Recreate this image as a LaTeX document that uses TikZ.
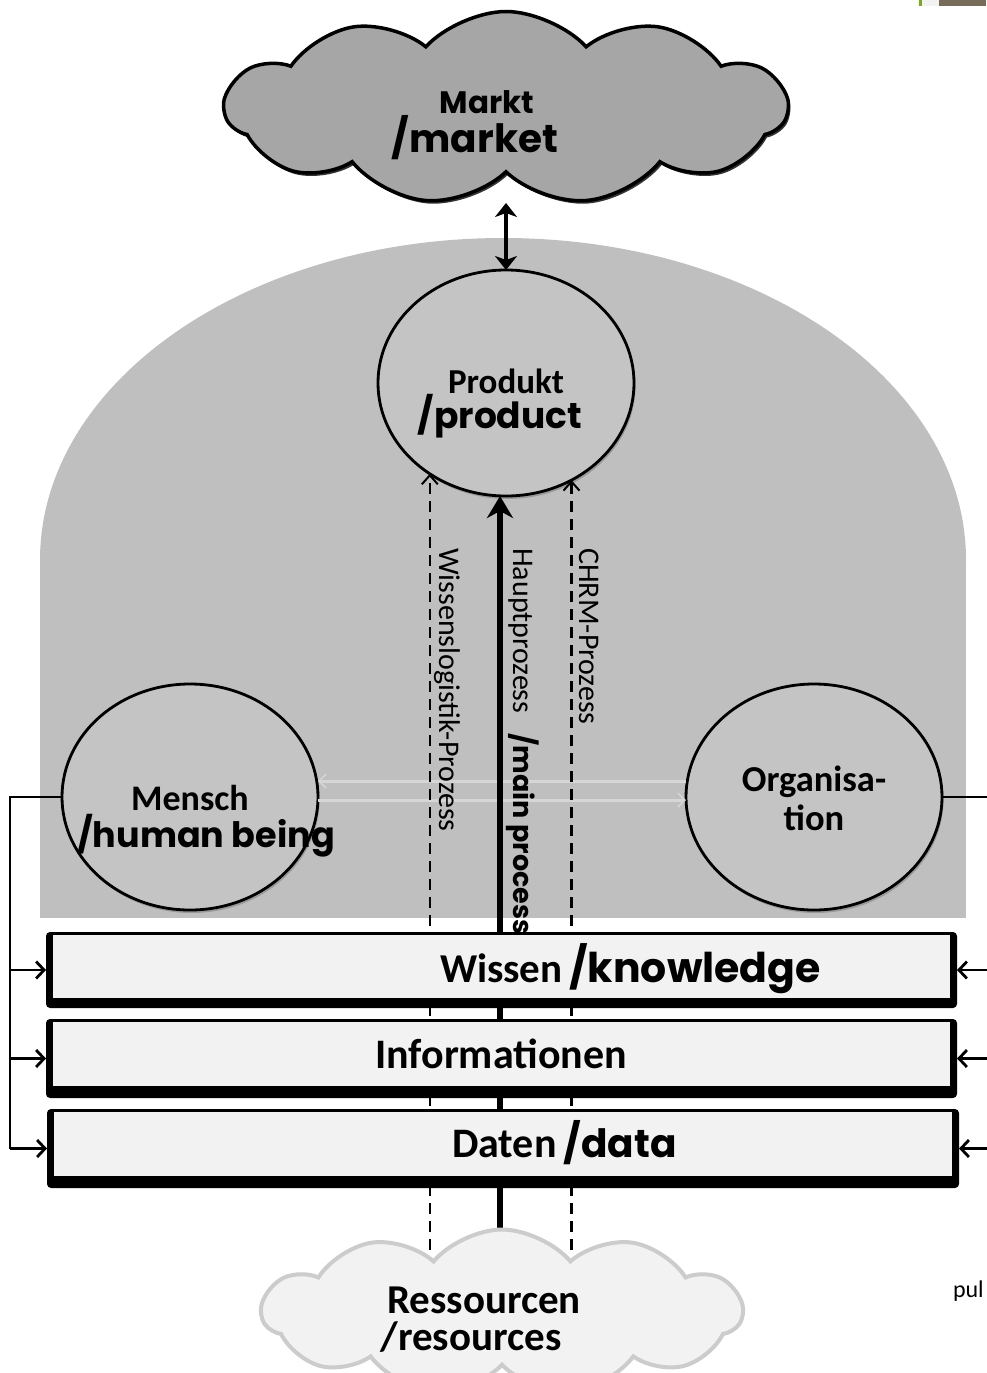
\documentclass[tikz,border=0pt]{standalone}
\usepackage{fontspec}
\setmainfont{Carlito}
\newfontfamily\geo{Poppins}
\usetikzlibrary{shapes.geometric,shapes.symbols,arrows.meta,shadows,calc}
\definecolor{marketgray}{HTML}{A6A6A6}
\definecolor{domegray}{HTML}{BFBFBF}
\definecolor{circgray}{HTML}{C4C4C4}
\definecolor{panelgray}{HTML}{F2F2F2}
\definecolor{resline}{HTML}{CCCCCC}
\definecolor{faintgray}{HTML}{D6D6D6}
\definecolor{markgreen}{HTML}{7AA81C}
\definecolor{markbrown}{HTML}{776B5A}
\begin{document}
\begin{tikzpicture}[x=1pt,y=-1pt,
  circ/.style={ellipse, draw=black, line width=2.8pt, fill=circgray, minimum width=256pt, minimum height=226pt, inner sep=0pt, outer sep=0pt, drop shadow={opacity=0.6, shadow xshift=1.5pt, shadow yshift=-3pt}},
  layerframe/.style={rectangle, fill=black, rounded corners=4pt, inner sep=0pt, outer sep=0pt},
  layerpanel/.style={rectangle, fill=panelgray, inner sep=0pt, outer sep=0pt},
  procdash/.style={line width=2.6pt, dash pattern=on 11pt off 7pt, -{Straight Barb[length=9pt,width=16pt,line width=2pt]}},
  procmain/.style={line width=6.5pt, -{Stealth[length=22pt,width=26pt,inset=7pt]}},
  linkline/.style={line width=2.2pt},
  linkarrow/.style={line width=2.2pt, -{Straight Barb[length=8pt,width=17pt,line width=2.8pt]}},
  faintarrow/.style={draw=faintgray, line width=3pt, -{Straight Barb[length=7pt,width=14pt,line width=1.5pt]}},
  txt/.style={inner sep=0pt, outer sep=0pt, anchor=base},
]
\useasboundingbox (0,0) rectangle (986,1373);
\fill[white] (0,0) rectangle (986,1373);
% top-right marks
\fill[markgreen] (919,0) rectangle (921.5,6);
\fill[panelgray] (921.5,0) rectangle (939,6);
\fill[markbrown] (939,0) rectangle (986,6);

% dome
\fill[domegray] (40,560) rectangle (966,918);
\fill[domegray] (503,560) ellipse [x radius=463pt, y radius=322pt];

% market cloud
\node[cloud, cloud puffs=11, cloud puff arc=95, aspect=3, draw=black, line width=3.5pt, fill=marketgray, minimum width=562pt, minimum height=193pt, inner sep=0pt, outer sep=0pt, drop shadow={fill=black, opacity=0.8, shadow xshift=2pt, shadow yshift=-3pt}] (market) at (506,108) {};
\coordinate (marketbottom) at (506,203);

% circles
\node[circ] (product) at (506,383) {};
\node[circ] (mensch) at (190,797) {};
\node[circ] (org) at (814,797) {};

\draw[line width=4.5pt, {Stealth[length=14pt,width=22pt,inset=4pt]}-{Stealth[length=14pt,width=22pt,inset=4pt]}] (product.north |- marketbottom) -- (product.north);

% faint links between Mensch and Organisation
\draw[faintarrow] ([yshift=16pt]org.west) -- ([yshift=16pt]mensch.east);
\draw[faintarrow] ([yshift=-3pt]mensch.east) -- ([yshift=-3pt]org.west);

% process lines
\coordinate (procbase) at (500,1250);
\draw[procdash] (product.230 |- procbase) -- (product.230);
\draw[procdash] (product.304 |- procbase) -- (product.304);
\draw[procmain] (procbase) -- (procbase |- product.south);

% layers
\node[layerframe, minimum width=911pt, minimum height=76pt] (wissen) at (501.5,970) {};
\node[layerpanel, minimum width=897pt, minimum height=63pt] (wissenpanel) at (501.5,966.5) {};
\node[layerframe, minimum width=911pt, minimum height=79pt] (info) at (501.5,1058.5) {};
\node[layerpanel, minimum width=897pt, minimum height=64pt] (infopanel) at (501.5,1054) {};
\node[layerframe, minimum width=912pt, minimum height=79pt] (daten) at (503,1148.5) {};
\node[layerpanel, minimum width=898pt, minimum height=64pt] (datenpanel) at (503,1144) {};

% left connector
\coordinate (lbus) at (10,0);
\draw[linkline] (mensch.west) -- (mensch.west -| lbus) -- (lbus |- daten.west);
\draw[linkarrow] (lbus |- wissen.west) -- (wissen.west);
\draw[linkarrow] (lbus |- info.west) -- (info.west);
\draw[linkarrow] (lbus |- daten.west) -- (daten.west);
% right connector
\coordinate (rbus) at (992,0);
\draw[linkline] (org.east) -- (org.east -| rbus);
\draw[linkarrow] (rbus |- wissen.east) -- (wissen.east);
\draw[linkarrow] (rbus |- info.east) -- (info.east);
\draw[linkarrow] (rbus |- daten.east) -- (daten.east);

% resources cloud
\node[cloud, cloud puffs=11, cloud puff arc=100, aspect=3, draw=resline, line width=4pt, fill=panelgray, minimum width=480pt, minimum height=165pt, inner sep=0pt, outer sep=0pt] (res) at (502,1312) {};

% texts
\node[txt, font=\geo\bfseries\fontsize{31}{31}\selectfont] (marketde) at (487,113) {Markt};
\node[txt, font=\geo\bfseries\fontsize{39}{39}\selectfont] (marketen) at (475,152) {/market};
\node[txt, font=\bfseries\fontsize{35}{35}\selectfont] (productde) at (506,393) {Produkt};
\node[txt, font=\geo\bfseries\fontsize{36}{36}\selectfont] (producten) at (500,428) {/product};
\node[txt, font=\bfseries\fontsize{36}{36}\selectfont] (menschde) at (190,810) {Mensch};
\node[txt, font=\geo\bfseries\fontsize{35}{35}\selectfont] (menschen) at (206,847) {/human being};
\node[txt, font=\bfseries\fontsize{36.5}{36.5}\selectfont] (orgde1) at (814,791) {Organisa-};
\node[txt, font=\bfseries\fontsize{36.5}{36.5}\selectfont] (orgde2) at (814,830) {tion};
\node[txt, anchor=base west, font=\bfseries\fontsize{41}{41}\selectfont] (wissentext) at (440,982) {Wissen\,{\geo\fontsize{41}{41}\selectfont /knowledge}};
\node[txt, font=\bfseries\fontsize{42}{42}\selectfont] (infotext) at (501,1068) {Informationen};
\node[txt, anchor=base west, font=\bfseries\fontsize{42}{42}\selectfont] (datentext) at (452,1157) {Daten\,{\geo\fontsize{39}{39}\selectfont /data}};
\node[inner sep=0pt, outer sep=0pt, align=center, font=\bfseries\fontsize{41}{37}\selectfont] (restext) at (484,1320) {Ressourcen\\/resources\hspace{26pt}\mbox{}};
\node[txt, anchor=base west, font=\fontsize{24}{24}\selectfont] (pubtext) at (953,1297) {pul};

\node[rotate=-90, anchor=base west, inner sep=0pt, font=\fontsize{30}{30}\selectfont] (wllabel) at (439,548) {Wissenslogistik-Prozess};
\node[rotate=-90, anchor=base west, inner sep=0pt, font=\fontsize{30}{30}\selectfont] (mainlabel) at (513,548) {Hauptprozess\hspace{20pt}{\geo\bfseries\fontsize{27}{27}\selectfont /main process}};
\node[rotate=-90, anchor=base west, inner sep=0pt, font=\fontsize{30}{30}\selectfont] (chrmlabel) at (579,548) {CHRM-Prozess};
\end{tikzpicture}
\end{document}
